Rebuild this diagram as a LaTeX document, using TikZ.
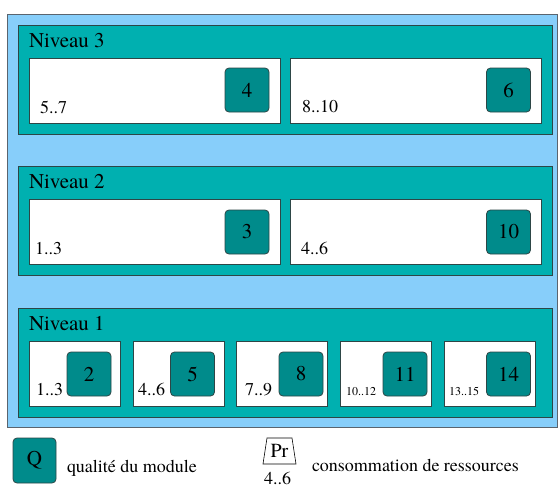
\documentclass[tikz,border=0pt]{standalone}
\usepackage{fontspec}
\setmainfont{TeX Gyre Termes}
\usetikzlibrary{positioning, shapes.geometric}
\definecolor{skyback}{RGB}{135, 206, 250}
\definecolor{levelteal}{RGB}{0, 176, 176}
\definecolor{qualteal}{RGB}{0, 139, 139}
\definecolor{edgedark}{RGB}{45, 70, 70}
\definecolor{framegray}{RGB}{90, 100, 110}

\begin{document}
\begin{tikzpicture}[
            x=1pt, y=-1pt,
            every node/.style={inner sep=0pt, outer sep=0pt},
            levelbox/.style={draw=edgedark, line width=0.8pt, fill=levelteal, anchor=north west, minimum width=534pt, minimum height=109pt},
            modbox/.style={draw=edgedark, line width=0.8pt, fill=white, anchor=north west, minimum height=65pt},
            widebox/.style={modbox, minimum width=251pt},
            smallbox/.style={modbox, minimum width=91pt},
            qualbox/.style={draw=edgedark, line width=0.8pt, fill=qualteal, rounded corners=4pt, minimum size=44pt, font=\fontsize{21}{24}\selectfont},
            levellabel/.style={anchor=base west, font=\fontsize{21}{24}\selectfont},
            rangelabel/.style={anchor=base west, font=\fontsize{18}{22}\selectfont},
            tinylabel/.style={anchor=base west, font=\fontsize{12}{14}\selectfont}
        ]
            \useasboundingbox (0,0) rectangle (558,488);
            \node[draw=framegray, line width=0.8pt, fill=skyback, anchor=north west, minimum width=550pt, minimum height=413pt] (frame) at (7,14) {};

            % Niveau 3
            \node[levelbox] (lvlthree) at (18,25) {};
            \node[levellabel] (lvlthreename) at (29,47) {Niveau 3};
            \node[widebox] (modthreea) at (29,58) {};
            \node[widebox] (modthreeb) at (290,58) {};
            \node[qualbox] (qthreea) at (247,90) {4};
            \node[qualbox] (qthreeb) at (508.5,90) {6};
            \node[rangelabel] (rthreea) at (40,113) {5..7};
            \node[rangelabel] (rthreeb) at (302,112) {8..10};

            % Niveau 2
            \node[levelbox] (lvltwo) at (18,166.5) {};
            \node[levellabel] (lvltwoname) at (29,188.5) {Niveau 2};
            \node[widebox] (modtwoa) at (29,199.5) {};
            \node[widebox] (modtwob) at (290,199.5) {};
            \node[qualbox] (qtwoa) at (247,232) {3};
            \node[qualbox] (qtwob) at (508.5,232) {10};
            \node[rangelabel] (rtwoa) at (35,254) {1..3};
            \node[rangelabel] (rtwob) at (301,254) {4..6};

            % Niveau 1
            \node[levelbox] (lvlone) at (18,308) {};
            \node[levellabel] (lvlonename) at (29,330.5) {Niveau 1};
            \node[smallbox] (modonea) at (29,341.5) {};
            \node[smallbox] (modoneb) at (133,341.5) {};
            \node[smallbox] (modonec) at (236,341.5) {};
            \node[smallbox] (modoned) at (340,341.5) {};
            \node[smallbox] (modonee) at (444,341.5) {};
            \node[qualbox] (qonea) at (89,374) {2};
            \node[qualbox] (qoneb) at (192.5,374) {5};
            \node[qualbox] (qonec) at (301,374) {8};
            \node[qualbox] (qoned) at (405,374) {11};
            \node[qualbox] (qonee) at (508.5,374) {14};
            \node[rangelabel] (ronea) at (36,395) {1..3};
            \node[rangelabel] (roneb) at (138,395) {4..6};
            \node[rangelabel] (ronec) at (245,395) {7..9};
            \node[tinylabel] (roned) at (346,395) {10..12};
            \node[tinylabel] (ronee) at (449,395) {13..15};

            % legende
            \node[qualbox, minimum width=43pt, minimum height=45pt] (legq) at (34.5,460.5) {Q};
            \node[rangelabel] (legqtext) at (67,472) {qualité du module};
            \node[font=\fontsize{20}{24}\selectfont] (legpr) at (279.5,451) {Pr};
            \draw[line width=0.6pt] (267,438) -- (292,438) -- (296,464) -- (263,464) -- cycle;
            \node[rangelabel] (legprrange) at (264,484) {4..6};
            \node[rangelabel] (legprtext) at (312,471) {consommation de ressources};
        \end{tikzpicture}
\end{document}
